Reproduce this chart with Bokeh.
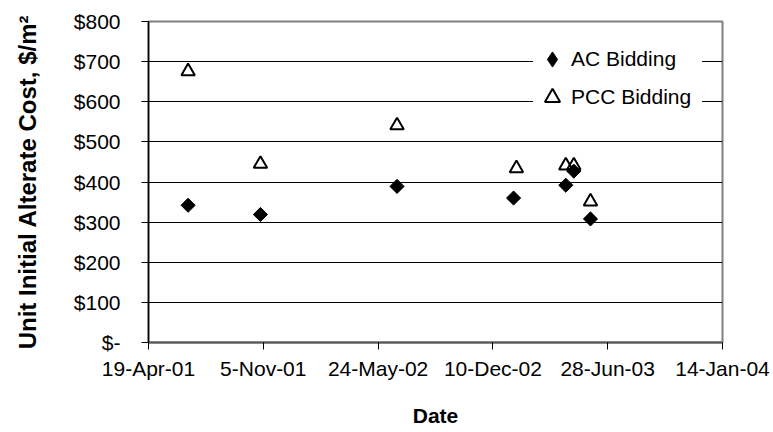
import numpy as np
import pandas as pd
from bokeh.plotting import figure
from bokeh.models import Range1d, FixedTicker, Legend, LegendItem
from bokeh.embed import file_html
from bokeh.resources import INLINE

# ---- data ----
ac_dates = ["2001-06-27", "2001-10-31", "2002-06-26", "2003-01-15",
            "2003-04-16", "2003-04-30", "2003-05-29"]
ac_cost = [342, 319, 389, 360, 392, 427, 308]

pcc_dates = ["2001-06-27", "2001-10-31", "2002-06-26", "2003-01-20",
             "2003-04-16", "2003-04-30", "2003-05-29"]
pcc_cost = [676, 445, 541, 434, 441, 441, 351]

x_tick_dates = ["2001-04-19", "2001-11-05", "2002-05-24",
                "2002-12-10", "2003-06-28", "2004-01-14"]
x_tick_labels = ["19-Apr-01", "5-Nov-01", "24-May-02",
                 "10-Dec-02", "28-Jun-03", "14-Jan-04"]

y_ticks = [0, 100, 200, 300, 400, 500, 600, 700, 800]
y_tick_labels = ["$-", "$100", "$200", "$300", "$400",
                 "$500", "$600", "$700", "$800"]

series_names = ["AC Bidding", "PCC Bidding"]
x_title = "Date"
y_title = "Unit Initial Alterate Cost, $/m\u00b2"

FONT = "Liberation Sans"


def to_ms(s):
    return int(pd.Timestamp(s).value // 10**6)


x_ticks_ms = [to_ms(d) for d in x_tick_dates]

p = figure(width=773, height=432, x_axis_type="datetime",
           x_range=Range1d(x_ticks_ms[0], x_ticks_ms[-1]),
           y_range=Range1d(y_ticks[0], y_ticks[-1]),
           output_backend="svg", toolbar_location=None,
           min_border_left=148, min_border_right=51,
           min_border_top=21, min_border_bottom=90)

p.background_fill_color = "white"
p.border_fill_color = "white"
p.outline_line_color = "#808080"
p.outline_line_width = 2

p.xgrid.visible = False
p.ygrid.grid_line_color = "black"
p.ygrid.grid_line_width = 1

# x axis
p.xaxis.ticker = FixedTicker(ticks=x_ticks_ms)
p.xaxis.major_label_overrides = dict(zip(x_ticks_ms, x_tick_labels))
p.xaxis.axis_line_color = "#555555"
p.xaxis.axis_line_width = 2
p.xaxis.major_tick_line_color = "black"
p.xaxis.major_tick_out = 7
p.xaxis.major_tick_in = 0
p.xaxis.minor_tick_line_color = None
p.xaxis.major_label_text_font = FONT
p.xaxis.major_label_text_font_size = "21px"
p.xaxis.major_label_text_color = "black"
p.xaxis.major_label_standoff = 7
p.xaxis.axis_label = x_title
p.xaxis.axis_label_text_font = FONT
p.xaxis.axis_label_text_font_style = "bold"
p.xaxis.axis_label_text_font_size = "21px"
p.xaxis.axis_label_text_color = "black"
p.xaxis.axis_label_standoff = 21

# y axis
p.yaxis.ticker = FixedTicker(ticks=y_ticks)
p.yaxis.major_label_overrides = dict(zip(y_ticks, y_tick_labels))
p.yaxis.axis_line_color = "black"
p.yaxis.axis_line_width = 1.5
p.yaxis.major_tick_line_color = "black"
p.yaxis.major_tick_out = 7
p.yaxis.major_tick_in = 0
p.yaxis.minor_tick_line_color = None
p.yaxis.major_label_text_font = FONT
p.yaxis.major_label_text_font_size = "21px"
p.yaxis.major_label_text_color = "black"
p.yaxis.major_label_standoff = 21
p.yaxis.axis_label = y_title
p.yaxis.axis_label_text_font = FONT
p.yaxis.axis_label_text_font_style = "bold"
p.yaxis.axis_label_text_font_size = "24px"
p.yaxis.axis_label_text_color = "black"
p.yaxis.axis_label_standoff = 30

ac_x = pd.to_datetime(ac_dates)
pcc_x = pd.to_datetime(pcc_dates)

# data
r_pcc = p.scatter(pcc_x, pcc_cost, marker="triangle",
                  size=13.5, fill_color=None, line_color="black", line_width=2)
# diamond-shaped swatch for the legend (legend glyphs ignore marker angle);
# drawn small, fully hidden under the rotated-square AC markers
r_ac_key = p.scatter(ac_x, ac_cost, marker="diamond", size=9,
                     fill_color="black", line_color="black", line_width=1)
r_ac = p.scatter(ac_x, ac_cost, marker="square",
                 angle=np.pi / 4, size=10, fill_color="black",
                 line_color="black", line_width=1)

legend = Legend(items=[LegendItem(label=series_names[0], renderers=[r_ac_key]),
                       LegendItem(label=series_names[1], renderers=[r_pcc])],
                location=(385, 226.5))
legend.border_line_color = None
legend.background_fill_color = "white"
legend.background_fill_alpha = 1
legend.label_text_font = FONT
legend.label_text_font_size = "21px"
legend.label_text_color = "black"
legend.glyph_width = 38
legend.glyph_height = 38
legend.label_height = 24
legend.label_width = 131
legend.padding = 0
legend.spacing = -4
legend.label_standoff = 0
legend.margin = 0
p.add_layout(legend)

open("out.html", "w").write(file_html(p, INLINE))
